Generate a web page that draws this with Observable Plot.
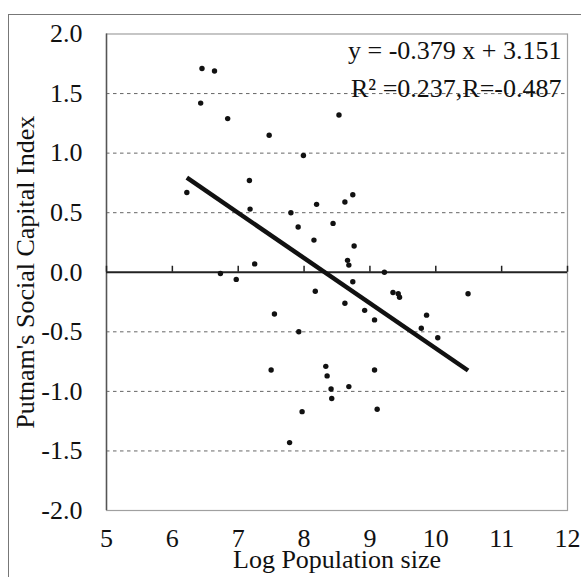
<!DOCTYPE html>
<html>
<head>
<meta charset="utf-8">
<script src="https://cdn.jsdelivr.net/npm/d3@7"></script>
<script src="https://cdn.jsdelivr.net/npm/@observablehq/plot@0.6"></script>
<style>
  html, body { margin: 0; padding: 0; background: #fff; }
  #wrap { position: relative; width: 581px; height: 577px; overflow: hidden; }
  #outer { position: absolute; left: 8px; top: 14px; width: 640px; height: 640px; border: 1px solid #777; box-sizing: border-box; pointer-events: none; }
  svg, svg text { font-family: "Liberation Serif", "Times New Roman", serif !important; }
</style>
</head>
<body>
<div id="wrap"><div id="outer"></div></div>
<script>
// Data
const logPop = [6.22, 6.45, 6.64, 6.43, 6.84, 7.47, 7.99, 8.53, 7.17, 7.18, 7.25, 6.73, 6.97,
  7.80, 7.91, 8.19, 8.15, 8.44, 8.62, 8.74, 8.76, 8.66, 8.68, 9.22, 8.74, 8.17, 8.62, 8.92,
  9.07, 9.35, 9.43, 9.45, 9.86, 9.78, 10.03, 10.49, 7.55, 7.92, 7.50, 8.33, 8.35, 8.41,
  8.42, 8.68, 9.07, 9.11, 7.97, 7.78];
const socialCapital = [0.67, 1.71, 1.69, 1.42, 1.29, 1.15, 0.98, 1.32, 0.77, 0.53, 0.07, -0.01, -0.06,
  0.50, 0.38, 0.57, 0.27, 0.41, 0.59, 0.65, 0.22, 0.10, 0.06, 0.00, -0.08, -0.16, -0.26, -0.32,
  -0.40, -0.17, -0.18, -0.21, -0.36, -0.47, -0.55, -0.18, -0.35, -0.50, -0.82, -0.79, -0.87, -0.98,
  -1.06, -0.96, -0.82, -1.15, -1.17, -1.43];
const fitSlope = [-0.379];
const fitIntercept = [3.151];
const xTicks = [5, 6, 7, 8, 9, 10, 11, 12];
const yTicks = [-2.0, -1.5, -1.0, -0.5, 0.0, 0.5, 1.0, 1.5, 2.0];
const gridY = [-1.5, -1.0, -0.5, 0.5, 1.0, 1.5];
const xTitle = "Log Population size";
const yTitle = "Putnam's Social Capital Index";
const eqLine = "y = -0.379 x + 3.151";
const statLine = "R\u00B2 =0.237,R=-0.487";

const points = logPop.map((x, i) => ({x, y: socialCapital[i]}));
const xMin = d3.min(logPop), xMax = d3.max(logPop);
const fit = [xMin, xMax].map(x => ({x, y: fitSlope[0] * x + fitIntercept[0]}));

const FONT = "'Liberation Serif', 'Times New Roman', serif";
const FS = 26;

const chart = Plot.plot({
  width: 581,
  height: 577,
  marginLeft: 106,
  marginRight: 14,
  marginTop: 33.5,
  marginBottom: 67,
  style: {fontFamily: FONT, fontSize: FS + "px", background: "transparent", color: "#111"},
  x: {domain: [5, 12]},
  y: {domain: [-2, 2]},
  marks: [
    Plot.ruleY(gridY, {stroke: "#666", strokeWidth: 1, strokeDasharray: "3.5,3.5"}),
    Plot.frame({stroke: "#a0a0a0", strokeWidth: 1.2}),
    Plot.ruleX([5], {stroke: "#555", strokeWidth: 1.5}),
    Plot.ruleY([0], {stroke: "#222", strokeWidth: 2}),
    Plot.ruleX(xTicks, {x: d => d, y1: () => 0, y2: () => 0, insetTop: -6, stroke: "#222", strokeWidth: 1.5}),
    Plot.axisX({ticks: xTicks, tickSize: 0, tickPadding: 18.5, tickFormat: d => String(d), fontSize: FS, fontFamily: FONT, label: null}),
    Plot.axisY({ticks: yTicks, tickSize: 0, tickPadding: 24, tickFormat: d => d.toFixed(1), fontSize: FS, fontFamily: FONT, label: null}),
    Plot.line(fit, {x: "x", y: "y", stroke: "#111", strokeWidth: 4.5, strokeLinecap: "butt"}),
    Plot.dot(points, {x: "x", y: "y", r: 2.7, fill: "#111", stroke: null}),
    Plot.text([eqLine], {text: d => d, frameAnchor: "top-right", textAnchor: "end", lineAnchor: "bottom", dx: -6, dy: 25, fontSize: FS, fontFamily: FONT, fill: "#111"}),
    Plot.text([statLine], {text: d => d, frameAnchor: "top-right", textAnchor: "end", lineAnchor: "bottom", dx: -6, dy: 62.5, fontSize: FS, fontFamily: FONT, fill: "#111"}),
    Plot.text([xTitle], {text: d => d, frameAnchor: "bottom", lineAnchor: "bottom", dy: 57.5, fontSize: FS, fontFamily: FONT, fill: "#111"}),
    Plot.text([yTitle], {text: d => d, frameAnchor: "left", textAnchor: "middle", lineAnchor: "middle", rotate: -90, dx: -81, fontSize: FS, fontFamily: FONT, fill: "#111"})
  ]
});
document.getElementById("wrap").prepend(chart);
</script>
</body>
</html>
